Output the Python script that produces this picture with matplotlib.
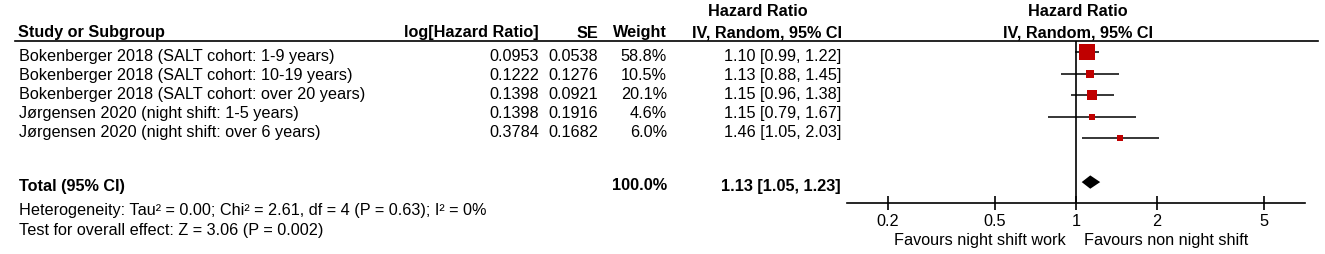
import numpy as np
import matplotlib
matplotlib.use("Agg")
import matplotlib.pyplot as plt

plt.rcParams["font.family"] = ["Liberation Sans", "DejaVu Sans"]
plt.rcParams["font.size"] = 11.7

# ---------------------------------------------------------------- data
studies = ["Bokenberger 2018 (SALT cohort: 1-9 years)",
           "Bokenberger 2018 (SALT cohort: 10-19 years)",
           "Bokenberger 2018 (SALT cohort: over 20 years)",
           "J\u00f8rgensen 2020 (night shift: 1-5 years)",
           "J\u00f8rgensen 2020 (night shift: over 6 years)"]
log_hr = [0.0953, 0.1222, 0.1398, 0.1398, 0.3784]
se = [0.0538, 0.1276, 0.0921, 0.1916, 0.1682]
weight = [58.8, 10.5, 20.1, 4.6, 6.0]
hr = [1.10, 1.13, 1.15, 1.15, 1.46]
ci_lo = [0.99, 0.88, 0.96, 0.79, 1.05]
ci_hi = [1.22, 1.45, 1.38, 1.67, 2.03]
total_hr, total_lo, total_hi = 1.13, 1.05, 1.23
hetero = "Heterogeneity: Tau\u00b2 = 0.00; Chi\u00b2 = 2.61, df = 4 (P = 0.63); I\u00b2 = 0%"
overall = "Test for overall effect: Z = 3.06 (P = 0.002)"
ticks = [0.2, 0.5, 1, 2, 5]
tick_labels = ["0.2", "0.5", "1", "2", "5"]
RED = "#c00000"

W, H = 1325, 254
fig = plt.figure(figsize=(W / 100, H / 100), dpi=100)

# text panel in pixel coordinates
tx = fig.add_axes([0, 0, 1, 1])
tx.set_xlim(0, W); tx.set_ylim(H, 0); tx.axis("off")

C_LOG, C_SE, C_W, C_HR = 539, 598, 667, 841

# header
hy = 33
tx.text(758, 12, "Hazard Ratio", ha="center", va="center", weight="bold")
tx.text(18, hy, "Study or Subgroup", ha="left", va="center", weight="bold")
tx.text(C_LOG, hy, "log[Hazard Ratio]", ha="right", va="center", weight="bold")
tx.text(C_SE, hy, "SE", ha="right", va="center", weight="bold")
tx.text(C_W, hy, "Weight", ha="right", va="center", weight="bold")
tx.text(C_HR + 1, hy, "IV, Random, 95% CI", ha="right", va="center", weight="bold")
tx.plot([15, 1318], [41, 41], color="black", lw=1.2)

# study rows
row_y = 56.5 + 19 * np.arange(len(studies))
for i, y in enumerate(row_y):
    tx.text(19, y, studies[i], ha="left", va="center")
    tx.text(C_LOG, y, f"{log_hr[i]:.4f}", ha="right", va="center")
    tx.text(C_SE, y, f"{se[i]:.4f}", ha="right", va="center")
    tx.text(C_W, y, f"{weight[i]:.1f}%", ha="right", va="center")
    tx.text(C_HR, y, f"{hr[i]:.2f} [{ci_lo[i]:.2f}, {ci_hi[i]:.2f}]", ha="right", va="center")

ty = 186
tx.text(19, ty, "Total (95% CI)", ha="left", va="center", weight="bold")
tx.text(C_W, ty, f"{sum(weight):.1f}%", ha="right", va="center", weight="bold")
tx.text(C_HR, ty, f"{total_hr:.2f} [{total_lo:.2f}, {total_hi:.2f}]", ha="right", va="center", weight="bold")
tx.text(19, 211, hetero, ha="left", va="center")
tx.text(19, 230, overall, ha="left", va="center")

# forest panel
x0, x1, ytop, ybot = 847, 1305, 41, 203
ax = fig.add_axes([x0 / W, 1 - ybot / H, (x1 - x0) / W, (ybot - ytop) / H])
ax.set_xscale("log")
ax.set_xlim(1 / 7.1, 7.1)
# row i sits at pixel 52 + 21.5 i
ax.set_ylim((ybot - 52) / 21.5, (ytop - 52) / 21.5)
ax.patch.set_alpha(0)
for s in ["top", "left", "right"]:
    ax.spines[s].set_visible(False)
ax.spines["bottom"].set_linewidth(1.2)
ax.axvline(1, color="black", lw=1.2)

ys = np.arange(len(studies))
ax.hlines(ys, ci_lo, ci_hi, color="black", lw=1.1)
for i in ys:
    side_px = 1.95 * np.sqrt(weight[i]) + 1
    ax.plot(hr[i], i, marker="s", ms=side_px * 0.72, color=RED, mec=RED, mew=0)

# total diamond
d = 6.05
ax.fill([total_lo, total_hr, total_hi, total_hr], [d, d - 0.31, d, d + 0.31], color="black", lw=0)

ax.set_xticks(ticks)
ax.set_xticklabels(tick_labels)
ax.minorticks_off()
ax.set_yticks([])
ax.tick_params(axis="x", direction="inout", length=10, width=1.2, pad=3)

# forest header and footer
tx.text(1078, 12, "Hazard Ratio", ha="center", va="center", weight="bold")
tx.text(1078, hy, "IV, Random, 95% CI", ha="center", va="center", weight="bold")
tx.text(1066, 240, "Favours night shift work", ha="right", va="center")
tx.text(1084, 240, "Favours non night shift", ha="left", va="center")

fig.savefig("out.png", dpi=100)
